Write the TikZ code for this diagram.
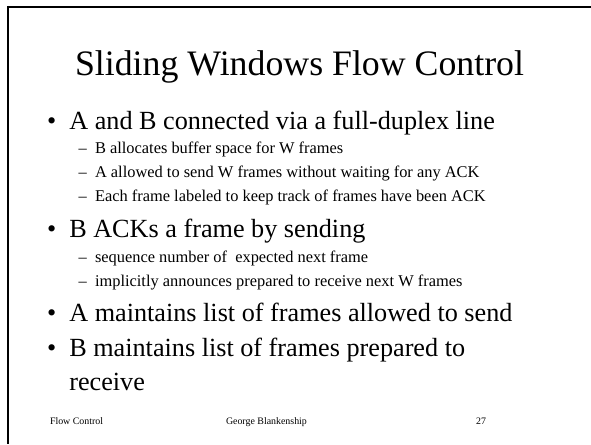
\documentclass[tikz,border=0pt]{standalone}
\usepackage{fontspec}
\setmainfont{Liberation Serif}
\begin{document}
\begin{tikzpicture}[x=1pt,y=-1pt,
  txt/.style={inner sep=0pt,outer sep=0pt,anchor=base west},
  titletxt/.style={txt,font=\fontsize{35.8}{40}\selectfont},
  lvlone/.style={txt,font=\fontsize{26.2}{30}\selectfont},
  lvltwo/.style={txt,font=\fontsize{16.4}{19}\selectfont},
  foot/.style={txt,font=\fontsize{9.9}{12}\selectfont},
  rule/.style={draw=black,line width=2.2pt}]
\useasboundingbox (0,0) rectangle (591,444);
\fill[white] (0,0) rectangle (591,444);
% frame rules along the top and left edge
\draw[rule] (8,7) -- (591,7);
\draw[rule] (8,5.9) -- (8,444);
% title
\node[titletxt] (title) at (75,75) {Sliding Windows Flow Control};
% first bullet
\node[lvlone] (b1) at (47,129) {•};
\node[lvlone] (t1) at (69.3,129) {A and B connected via a full-duplex line};
\node[lvltwo] (d11) at (78.5,153) {–};
\node[lvltwo] (s11) at (95,153) {B allocates buffer space for W frames};
\node[lvltwo] (d12) at (78.5,177.7) {–};
\node[lvltwo] (s12) at (95,177.7) {A allowed to send W frames without waiting for any ACK};
\node[lvltwo] (d13) at (78.5,201.7) {–};
\node[lvltwo] (s13) at (95,201.7) {Each frame labeled to keep track of frames have been ACK};
% second bullet
\node[lvlone] (b2) at (47,237) {•};
\node[lvlone] (t2) at (69.3,237) {B ACKs a frame by sending};
\node[lvltwo] (d21) at (78.5,262.3) {–};
\node[lvltwo] (s21) at (95,262.3) {sequence number of \ expected next frame};
\node[lvltwo] (d22) at (78.5,286.7) {–};
\node[lvltwo] (s22) at (95,286.7) {implicitly announces prepared to receive next W frames};
% remaining bullets
\node[lvlone] (b3) at (47,321.7) {•};
\node[lvlone] (t3) at (69.3,321.7) {A maintains list of frames allowed to send};
\node[lvlone] (b4) at (47,356.7) {•};
\node[lvlone] (t4) at (69.3,356.7) {B maintains list of frames prepared to};
\node[lvlone] (t4b) at (69.3,390) {receive};
% footer
\node[foot] (f1) at (50,424) {Flow Control};
\node[foot] (f2) at (226,424) {George Blankenship};
\node[foot,anchor=base east] (f3) at (486,424) {27};
\end{tikzpicture}
\end{document}
